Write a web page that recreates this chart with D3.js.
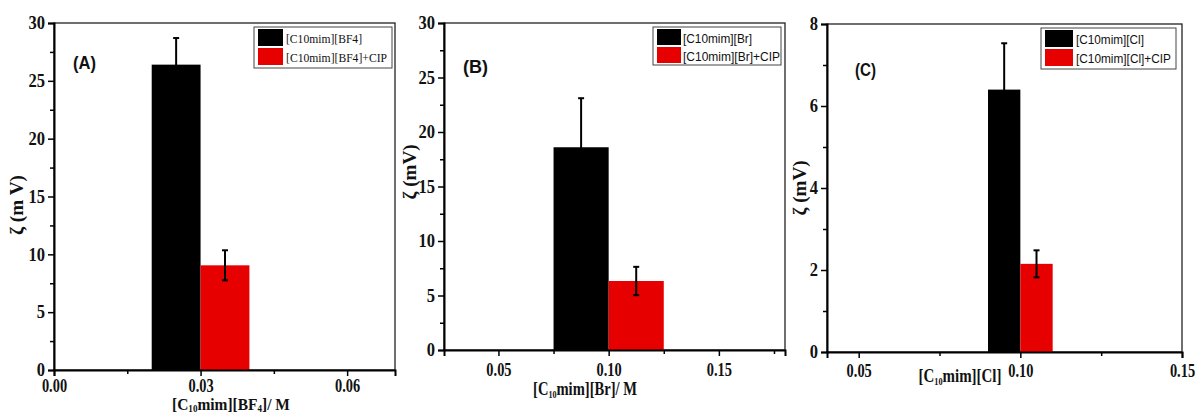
<!DOCTYPE html>
<html>
<head>
<meta charset="utf-8">
<script src="https://cdn.jsdelivr.net/npm/d3@7"></script>
<style>
  html, body { margin: 0; padding: 0; background: #fff; }
  svg { display: block; }
</style>
</head>
<body>
<svg id="chart" width="1197" height="414"></svg>
<script>
// ---------- DATA ----------
// Panel A
const seriesA = ["[C10mim][BF4]", "[C10mim][BF4]+CIP"];
const xA = [0.025, 0.035];
const valuesA = [26.4, 9.05];
const errorsA = [2.3, 1.3];
const barWidthA = 0.01;
const xTicksA = [0.00, 0.03, 0.06];
const xMinorA = [0.015, 0.045];
const yTicksA = [0, 5, 10, 15, 20, 25, 30];
const yMinorA = [2.5, 7.5, 12.5, 17.5, 22.5, 27.5];

// Panel B
const seriesB = ["[C10mim][Br]", "[C10mim][Br]+CIP"];
const xB = [0.0875, 0.1125];
const valuesB = [18.6, 6.33];
const errorsB = [4.5, 1.3];
const barWidthB = 0.025;
const xTicksB = [0.05, 0.10, 0.15];
const xMinorB = [0.075, 0.125, 0.175];
const yTicksB = [0, 5, 10, 15, 20, 25, 30];
const yMinorB = [2.5, 7.5, 12.5, 17.5, 22.5, 27.5];

// Panel C
const seriesC = ["[C10mim][Cl]", "[C10mim][Cl]+CIP"];
const xC = [0.095, 0.105];
const valuesC = [6.4, 2.15];
const errorsC = [1.13, 0.33];
const barWidthC = 0.01;
const xTicksC = [0.05, 0.10, 0.15];
const xMinorC = [0.075, 0.125];
const yTicksC = [0, 2, 4, 6, 8];
const yMinorC = [1, 3, 5, 7];

const colors = ["#000000", "#e60000"];

// ---------- DRAW ----------
const svg = d3.select("#chart");
const serif = "'Liberation Serif', 'Times New Roman', serif";
const sans = "'Liberation Sans', Arial, sans-serif";

function panel(cfg) {
  const g = svg.append("g");
  const x = d3.scaleLinear().domain(cfg.xDomain).range([cfg.left, cfg.right]);
  const y = d3.scaleLinear().domain(cfg.yDomain).range([cfg.bottom, cfg.top]);

  // frame (top + right)
  g.append("rect")
    .attr("x", cfg.left).attr("y", cfg.top)
    .attr("width", cfg.right - cfg.left).attr("height", cfg.bottom - cfg.top)
    .attr("fill", "none").attr("stroke", "#222").attr("stroke-width", 1.3);

  // bars
  g.selectAll("rect.bar").data(cfg.values).join("rect")
    .attr("class", "bar")
    .attr("x", (d, i) => x(cfg.xs[i] - cfg.bw / 2))
    .attr("width", (d, i) => x(cfg.xs[i] + cfg.bw / 2) - x(cfg.xs[i] - cfg.bw / 2))
    .attr("y", d => y(d))
    .attr("height", d => y(0) - y(d))
    .attr("fill", (d, i) => colors[i]);

  // error bars
  cfg.values.forEach((v, i) => {
    const cx = x(cfg.xs[i]);
    const e = cfg.errors[i];
    g.append("line").attr("x1", cx).attr("x2", cx)
      .attr("y1", y(v - e)).attr("y2", y(v + e))
      .attr("stroke", "#000").attr("stroke-width", 2);
    [v - e, v + e].forEach(t => {
      g.append("line").attr("x1", cx - 3).attr("x2", cx + 3)
        .attr("y1", y(t)).attr("y2", y(t))
        .attr("stroke", "#000").attr("stroke-width", 2);
    });
  });

  // axes
  const xAxis = d3.axisBottom(x).tickValues(cfg.xTicks).tickSize(6).tickPadding(4)
    .tickFormat(d3.format(".2f"));
  const xAx = g.append("g").attr("transform", `translate(0,${cfg.bottom})`).call(xAxis);
  const xMin = d3.axisBottom(x).tickValues(cfg.xMinor).tickSize(4).tickFormat("");
  g.append("g").attr("transform", `translate(0,${cfg.bottom})`).call(xMin)
    .select(".domain").remove();

  const yAxis = d3.axisLeft(y).tickValues(cfg.yTicks).tickSize(6).tickPadding(3);
  const yAx = g.append("g").attr("transform", `translate(${cfg.left},0)`).call(yAxis);
  const yMin = d3.axisLeft(y).tickValues(cfg.yMinor).tickSize(4).tickFormat("");
  g.append("g").attr("transform", `translate(${cfg.left},0)`).call(yMin)
    .select(".domain").remove();

  g.selectAll(".domain").attr("stroke", "#000").attr("stroke-width", 2);
  g.selectAll(".tick line").attr("stroke", "#000").attr("stroke-width", 1.5);
  [xAx, yAx].forEach(a => a.selectAll("text")
    .style("font-family", serif).style("font-weight", "bold")
    .style("font-size", cfg.tickFont + "px").attr("fill", "#111"));
  const kx = 0.8, ky = 0.92;
  xAx.selectAll("text").attr("dy", null).attr("y", cfg.xTickBase - cfg.bottom)
    .attr("transform", `scale(${kx},1)`);
  yAx.selectAll("text").attr("x", -9 / ky).attr("transform", `scale(${ky},1)`);

  // legend
  const L = cfg.legend;
  g.append("rect").attr("x", L.x).attr("y", L.y).attr("width", L.w).attr("height", L.h)
    .attr("fill", "#fff").attr("stroke", "#444").attr("stroke-width", 1);
  cfg.series.forEach((s, i) => {
    g.append("rect").attr("x", L.x + 4).attr("y", L.y + 2 + i * L.row)
      .attr("width", L.sw).attr("height", L.row - 2).attr("fill", colors[i]);
    g.append("text").attr("x", L.tx).attr("y", L.y + 2 + i * L.row + L.row / 2 + 4.5)
      .style("font-family", L.font).style("font-size", L.fs + "px").attr("fill", "#111")
      .attr("textLength", L.lens[i]).attr("lengthAdjust", "spacingAndGlyphs")
      .text(s);
  });

  // panel tag
  g.append("text").attr("x", cfg.tag.x).attr("y", cfg.tag.y)
    .style("font-family", sans).style("font-weight", "bold").style("font-size", "18px")
    .attr("fill", "#111").attr("textLength", cfg.tag.w).attr("lengthAdjust", "spacingAndGlyphs")
    .text(cfg.tag.t);

  // y label
  g.append("text")
    .attr("transform", `translate(${cfg.yLab.x},${cfg.yLab.y}) rotate(-90)`)
    .attr("text-anchor", "middle")
    .style("font-family", serif).style("font-weight", "bold").style("font-size", "18px")
    .attr("fill", "#111").attr("textLength", cfg.yLab.len).attr("lengthAdjust", "spacingAndGlyphs")
    .text(cfg.yLab.t);

  // x label with subscripts, horizontally scaled to the reference width
  const xg = g.append("g");
  const xt = xg.append("text").attr("x", 0).attr("y", 0)
    .attr("text-anchor", "middle")
    .style("font-family", serif).style("font-weight", "bold").style("font-size", cfg.xLab.fs + "px")
    .attr("fill", "#111");
  cfg.xLab.parts.forEach(p => {
    const ts = xt.append("tspan").text(p[0]);
    if (p[1]) ts.style("font-size", "10px").attr("dy", cfg.xLab.sub);
    else if (p[2]) ts.attr("dy", -cfg.xLab.sub);
  });
  const nat = xt.node().getBBox().width;
  xg.attr("transform", `translate(${cfg.xLab.x},${cfg.xLab.y}) scale(${cfg.xLab.len / nat},1)`);
}

panel({
  left: 54, right: 395, top: 23, bottom: 370,
  xDomain: [0, 0.0698], yDomain: [0, 30],
  xs: xA, values: valuesA, errors: errorsA, bw: barWidthA,
  xTicks: xTicksA, xMinor: xMinorA, yTicks: yTicksA, yMinor: yMinorA,
  tickFont: 18, xTickBase: 392,
  series: seriesA,
  legend: { x: 254, y: 27, w: 138, h: 41, row: 19, sw: 25, tx: 286, font: serif, fs: 13.5, lens: [76, 101] },
  tag: { x: 73, y: 69, t: "(A)", w: 23 },
  yLab: { x: 23, y: 205, t: "ζ (m V)", len: 60 },
  xLab: { x: 231, y: 410, len: 118, fs: 17, sub: 2, parts: [["[C"], ["10", true], ["mim][BF", false, true], ["4", true], ["]/ M", false, true]] }
});

panel({
  left: 444, right: 785, top: 23, bottom: 350,
  xDomain: [0.0253, 0.18], yDomain: [0, 30],
  xs: xB, values: valuesB, errors: errorsB, bw: barWidthB,
  xTicks: xTicksB, xMinor: xMinorB, yTicks: yTicksB, yMinor: yMinorB,
  tickFont: 18, xTickBase: 376,
  series: seriesB,
  legend: { x: 653, y: 27, w: 128, h: 38, row: 18, sw: 24, tx: 683, font: sans, fs: 12.5, lens: [69, 97] },
  tag: { x: 463, y: 73, t: "(B)", w: 25 },
  yLab: { x: 416, y: 172, t: "ζ (mV)", len: 55 },
  xLab: { x: 585, y: 395, len: 104, fs: 18, sub: 3, parts: [["[C"], ["10", true], ["mim][Br]/ M", false, true]] }
});

panel({
  left: 827, right: 1182, top: 24, bottom: 352,
  xDomain: [0.0402, 0.15], yDomain: [0, 8],
  xs: xC, values: valuesC, errors: errorsC, bw: barWidthC,
  xTicks: xTicksC, xMinor: xMinorC, yTicks: yTicksC, yMinor: yMinorC,
  tickFont: 18, xTickBase: 377,
  series: seriesC,
  legend: { x: 1041, y: 28, w: 135, h: 41, row: 19, sw: 28, tx: 1076, font: sans, fs: 12.5, lens: [68, 95] },
  tag: { x: 855, y: 76, t: "(C)", w: 21 },
  yLab: { x: 806, y: 188, t: "ζ (mV)", len: 55 },
  xLab: { x: 960, y: 382, len: 83, fs: 18, sub: 3, parts: [["[C"], ["10", true], ["mim][Cl]", false, true]] }
});
</script>
</body>
</html>
